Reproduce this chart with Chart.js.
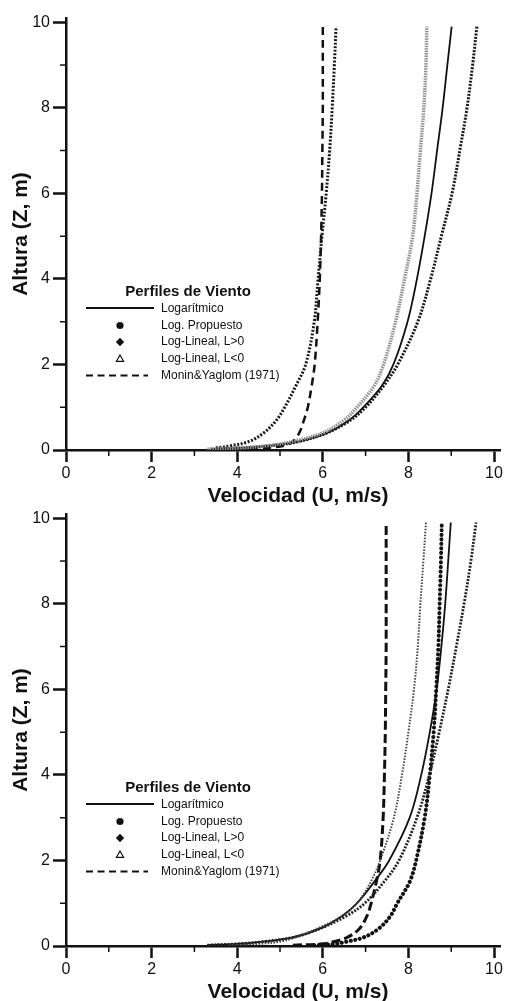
<!DOCTYPE html>
<html lang="es">
<head>
<meta charset="utf-8">
<title>Perfiles de Viento</title>
<script src="https://cdn.jsdelivr.net/npm/chart.js@4.4.1/dist/chart.umd.min.js"></script>
<style>
  html, body { margin: 0; padding: 0; background: #fff; overflow: hidden; }
  .panel { position: absolute; left: 0; width: 505px; height: 510px; }
  #panelTop { top: 0; }
  #panelBottom { top: 496px; }
</style>
</head>
<body>
<div class="panel" id="panelTop"><canvas id="chartTop" width="505" height="510"></canvas></div>
<div class="panel" id="panelBottom"><canvas id="chartBottom" width="505" height="510"></canvas></div>
<script>
const heights = [0.02, 0.05, 0.1, 0.2, 0.4, 0.7, 1, 1.5, 2, 3, 4, 5, 6, 7, 8, 9, 9.9];

// Upper panel - wind speed (m/s) at each height
const topLogaritmico = [3.4, 4.1, 4.8, 5.45, 6.1, 6.62, 6.95, 7.38, 7.65, 7.98, 8.2, 8.38, 8.54, 8.67, 8.8, 8.91, 9.01];
const topPropuesto   = [null, 3.5, 3.85, 4.28, 4.62, 4.92, 5.11, 5.37, 5.6, 5.8, 5.89, 5.98, 6.08, 6.16, 6.22, 6.27, 6.31];
const topLinealPos   = [3.4, 4.1, 4.8, 5.45, 6.1, 6.65, 7.0, 7.42, 7.75, 8.22, 8.52, 8.77, 9.02, 9.2, 9.37, 9.5, 9.6];
const topLinealNeg   = [3.3, 4.1, 4.7, 5.3, 6.0, 6.5, 6.8, 7.2, 7.42, 7.7, 7.91, 8.1, 8.2, 8.28, 8.36, 8.41, 8.43];
const topMonin       = [4.3, 4.7, 5.1, 5.3, 5.45, 5.56, 5.65, 5.74, 5.81, 5.88, 5.93, 5.96, 5.98, 5.99, 6.0, 6.0, 6.0];

// Lower panel - wind speed (m/s) at each height
const botLogaritmico = [3.3, 4.0, 4.6, 5.3, 5.92, 6.45, 6.8, 7.2, 7.55, 8.03, 8.3, 8.5, 8.66, 8.77, 8.86, 8.93, 8.99];
const botPropuesto   = [5.8, 6.3, 6.55, 6.95, 7.3, 7.58, 7.74, 8.03, 8.18, 8.38, 8.5, 8.59, 8.65, 8.7, 8.73, 8.76, 8.78];
const botLinealPos   = [3.3, 4.0, 4.6, 5.3, 5.92, 6.55, 6.98, 7.43, 7.78, 8.2, 8.49, 8.72, 8.93, 9.12, 9.3, 9.46, 9.58];
const botLinealNeg   = [3.8, 4.5, 5.0, 5.35, 5.85, 6.45, 6.8, 7.12, 7.34, 7.66, 7.85, 8.0, 8.13, 8.22, 8.28, 8.35, 8.41];
const botMonin       = [5.3, 6.0, 6.25, 6.57, 6.85, 7.03, 7.13, 7.25, 7.34, 7.41, 7.44, 7.46, 7.47, 7.48, 7.48, 7.48, 7.48];

// Axis ticks and texts
const majorTicks = [0, 2, 4, 6, 8, 10];
const minorTicks = [1, 3, 5, 7, 9];
const xTitle = 'Velocidad (U, m/s)';
const yTitle = 'Altura (Z, m)';
const legendTitle = 'Perfiles de Viento';
const legendLabels = ['Logarítmico', 'Log. Propuesto', 'Log-Lineal, L>0', 'Log-Lineal, L<0', 'Monin&Yaglom (1971)'];
const legendSymbols = ['line', 'circle', 'diamond', 'triangle', 'dash'];

const FONT = '"Liberation Sans", Arial, Helvetica, sans-serif';
const INK = '#111';

// Pair speeds with heights, skipping gaps
function toPoints(speeds) {
  return heights
    .map((z, i) => ({ x: speeds[i], y: z }))
    .filter(p => p.x !== null);
}

function line(label, speeds, style) {
  return Object.assign({
    label: label,
    data: toPoints(speeds),
    showLine: true,
    pointRadius: 0,
    tension: 0.35,
    fill: false,
    borderColor: INK,
    borderWidth: 2
  }, style);
}

// Minor ticks, x title and the in-plot legend
const extrasPlugin = {
  id: 'extras',
  afterDraw(chart) {
    const ctx = chart.ctx;
    const xs = chart.scales.x;
    const ys = chart.scales.y;
    const area = chart.chartArea;
    ctx.save();

    // minor ticks
    ctx.strokeStyle = INK;
    ctx.lineWidth = 1.5;
    ctx.beginPath();
    minorTicks.forEach(v => {
      const px = xs.getPixelForValue(v);
      ctx.moveTo(px, area.bottom);
      ctx.lineTo(px, area.bottom + 6);
      const py = ys.getPixelForValue(v);
      ctx.moveTo(area.left - 6, py);
      ctx.lineTo(area.left, py);
    });
    ctx.stroke();

    // x axis title
    ctx.fillStyle = INK;
    ctx.font = 'bold 21px ' + FONT;
    ctx.textAlign = 'center';
    ctx.textBaseline = 'alphabetic';
    ctx.fillText(xTitle, 298, 502);

    // legend
    ctx.font = 'bold 15px ' + FONT;
    ctx.textBaseline = 'middle';
    ctx.fillText(legendTitle, 188, 292);

    const rowY = [309, 325.5, 342, 358.5, 375.5];
    ctx.font = '12px ' + FONT;
    ctx.textAlign = 'left';
    legendLabels.forEach((text, i) => {
      const y = rowY[i];
      drawSymbol(ctx, legendSymbols[i], y);
      ctx.fillStyle = INK;
      ctx.fillText(text, 161, y);
    });
    ctx.restore();
  }
};

function drawSymbol(ctx, kind, y) {
  ctx.save();
  ctx.strokeStyle = INK;
  ctx.fillStyle = INK;
  ctx.beginPath();
  if (kind === 'line') {
    ctx.lineWidth = 2;
    ctx.moveTo(86, y - 1);
    ctx.lineTo(154, y - 1);
    ctx.stroke();
  } else if (kind === 'dash') {
    ctx.lineWidth = 2;
    ctx.setLineDash([7, 4.5]);
    ctx.moveTo(86, y);
    ctx.lineTo(148, y);
    ctx.stroke();
  } else if (kind === 'circle') {
    ctx.arc(120, y, 3.6, 0, Math.PI * 2);
    ctx.fill();
  } else if (kind === 'diamond') {
    ctx.moveTo(120, y - 4.2);
    ctx.lineTo(124.2, y);
    ctx.lineTo(120, y + 4.2);
    ctx.lineTo(115.8, y);
    ctx.closePath();
    ctx.fill();
  } else if (kind === 'triangle') {
    ctx.lineWidth = 1.2;
    ctx.moveTo(120, y - 3.5);
    ctx.lineTo(123.6, y + 2.8);
    ctx.lineTo(116.4, y + 2.8);
    ctx.closePath();
    ctx.stroke();
  }
  ctx.restore();
}

function makeChart(canvasId, datasets) {
  return new Chart(document.getElementById(canvasId), {
    type: 'scatter',
    data: { datasets: datasets },
    options: {
      responsive: false,
      animation: false,
      devicePixelRatio: 1,
      layout: { padding: { top: 18, right: 5, left: 0, bottom: 0 } },
      plugins: {
        legend: { display: false },
        tooltip: { enabled: false }
      },
      scales: {
        x: {
          type: 'linear',
          min: 0,
          max: 10.14,
          afterFit: scale => { scale.height = 60; },
          afterBuildTicks: scale => { scale.ticks = majorTicks.map(v => ({ value: v })); },
          ticks: { color: INK, padding: 2, font: { family: FONT, size: 16 } },
          grid: { drawOnChartArea: false, drawTicks: true, tickLength: 12, tickWidth: 2.5, tickColor: INK },
          border: { display: true, color: INK, width: 2.5 }
        },
        y: {
          type: 'linear',
          min: 0,
          max: 10.1,
          afterFit: scale => { scale.width = 66; },
          afterBuildTicks: scale => { scale.ticks = majorTicks.map(v => ({ value: v })); },
          ticks: { color: INK, padding: 3, font: { family: FONT, size: 16 } },
          grid: { drawOnChartArea: false, drawTicks: true, tickLength: 13, tickWidth: 2.5, tickColor: INK },
          border: { display: true, color: INK, width: 2.5 },
          title: {
            display: true,
            text: yTitle,
            color: INK,
            padding: { top: 9, bottom: 0 },
            font: { family: FONT, size: 21, weight: 'bold' }
          }
        }
      }
    },
    plugins: [extrasPlugin]
  });
}

makeChart('chartTop', [
  line('Log-Lineal, L<0', topLinealNeg, { borderColor: '#909090', borderWidth: 3.5, borderDash: [1.5, 1] }),
  line('Log. Propuesto', topPropuesto, { borderColor: '#1a1a1a', borderWidth: 3, borderDash: [2, 1.6] }),
  line('Log-Lineal, L>0', topLinealPos, { borderColor: '#1a1a1a', borderWidth: 3, borderDash: [2, 1.4] }),
  line('Monin&Yaglom (1971)', topMonin, { borderWidth: 2.5, borderDash: [8, 5] }),
  line('Logarítmico', topLogaritmico, { borderWidth: 1.8 })
]);

makeChart('chartBottom', [
  line('Log-Lineal, L<0', botLinealNeg, { borderColor: '#444', borderWidth: 2, borderDash: [1.5, 1.5] }),
  line('Log-Lineal, L>0', botLinealPos, { borderColor: '#222', borderWidth: 2.8, borderDash: [2, 1.4] }),
  line('Log. Propuesto', botPropuesto, { borderWidth: 4, borderDash: [0.1, 4.5], borderCapStyle: 'round' }),
  line('Monin&Yaglom (1971)', botMonin, { borderWidth: 3, borderDash: [9, 4] }),
  line('Logarítmico', botLogaritmico, { borderWidth: 1.8 })
]);
</script>
</body>
</html>
